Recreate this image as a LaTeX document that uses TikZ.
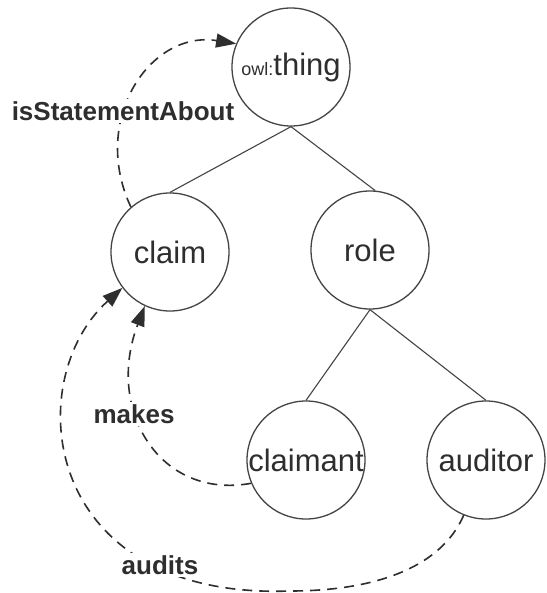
\documentclass[tikz,border=0pt]{standalone}
\usepackage{fontspec}
\setmainfont{Liberation Sans}
\usetikzlibrary{arrows.meta}
\definecolor{ink}{HTML}{2E2E2E}
\definecolor{edgec}{HTML}{444444}
\begin{document}
\begin{tikzpicture}[x=1pt,y=-1pt,
  cls/.style={circle,draw=edgec,line width=1.3pt,minimum size=118pt,inner sep=0pt,text=ink,font=\fontsize{31}{31}\selectfont},
  tree/.style={draw=edgec,line width=1.1pt},
  rel/.style={draw=ink,line width=1.6pt,dash pattern=on 10pt off 7pt,-{Triangle[length=20pt,width=14pt]}},
  lbl/.style={fill=white,inner sep=2pt,text=ink,font=\fontsize{26}{26}\selectfont\bfseries}]
\useasboundingbox[fill=white] (0,0) rectangle (546,593);
\node[cls] (thing) at (291,67) {\makebox[0pt]{{\fontsize{18}{18}\selectfont owl:}thing}};
\node[cls] (claim) at (170,252) {\makebox[0pt]{claim}};
\node[cls] (role) at (370,250) {\makebox[0pt]{role}};
\node[cls] (claimant) at (306,460) {\makebox[0pt]{claimant}};
\node[cls] (auditor) at (486,460) {\makebox[0pt]{auditor}};
\draw[tree] (thing.south) -- (claim.north);
\draw[tree] (thing.south) -- (role.85);
\draw[tree] (role.south) -- (claimant.north);
\draw[tree] (role.south) -- (auditor.north);
\coordinate (abot) at (290,591);
\draw[rel] (claim.131) .. controls (90,120) and (150,30) .. (thing.157);
\draw[rel] (claimant.203) .. controls (160,500) and (105,410) .. (claim.245);
\draw[rel] (auditor.248) .. controls (440,570) and (370,591) .. (abot) .. controls (40,600) and (20,380) .. (claim.217);
\node[lbl] (l1) at (123,111) {isStatementAbout};
\node[lbl] (l2) at (134,414) {makes};
\node[lbl] (l3) at (160,565) {audits};
\end{tikzpicture}
\end{document}
